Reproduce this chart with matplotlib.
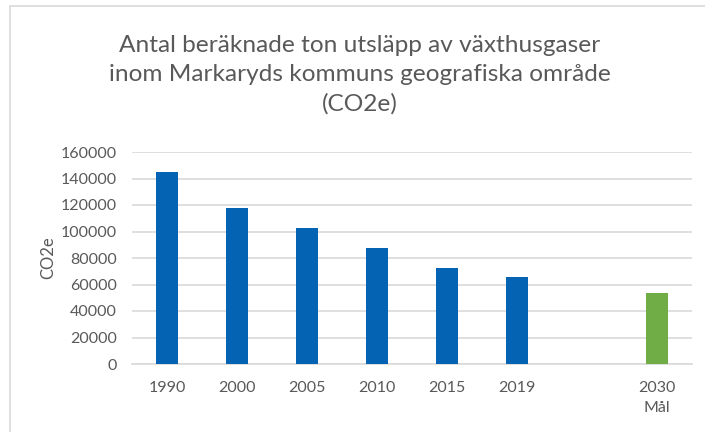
import matplotlib

matplotlib.use("Agg")
import matplotlib.pyplot as plt
import numpy as np
from matplotlib.patches import Rectangle

# values (tonnes CO2e)
categories = ["1990", "2000", "2005", "2010", "2015", "2019", "", "2030\nMål"]
emissions = [145000, 118000, 103000, 87500, 72300, 65400, 0, 53400]
is_target = [False, False, False, False, False, False, False, True]
yticks = [0, 20000, 40000, 60000, 80000, 100000, 120000, 140000, 160000]

title = ("Antal beräknade ton utsläpp av växthusgaser\n"
         "inom Markaryds kommuns geografiska område\n"
         "(CO2e)")

BLUE = "#0563b4"
GREEN = "#70ad47"
GRID = "#d9d9d9"
TEXT = "#595959"

plt.rcParams["font.family"] = ["Lato", "DejaVu Sans"]

fig = plt.figure(figsize=(7.05, 4.32), dpi=100)
ax = fig.add_axes([132 / 705, 1 - 364 / 432, 560 / 705, 212 / 432])

# light frame around the chart area, cut off at right and bottom like the screenshot
fig.patches.append(Rectangle((10 / 705, -0.1), 1.2, 1.1 - 6 / 432,
                             transform=fig.transFigure, fill=False,
                             edgecolor=GRID, linewidth=1.2))

x = np.arange(len(categories))
colors = [GREEN if t else BLUE for t in is_target]
heights = [v if c else 0 for v, c in zip(emissions, categories)]
ax.bar(x, heights, width=0.32, color=colors, zorder=3)

ax.set_xlim(-0.5, len(categories) - 0.5)
ax.set_ylim(0, 160000)
ax.set_yticks(yticks)
ax.set_yticklabels([str(v) for v in yticks])
ax.set_xticks(x)
ax.set_xticklabels(categories, linespacing=1.55)
ax.yaxis.grid(True, color=GRID, linewidth=1.2, zorder=0)
ax.tick_params(axis="y", length=0, pad=11, labelsize=11.5, labelcolor=TEXT)
ax.tick_params(axis="x", length=0, pad=12, labelsize=11.5, labelcolor=TEXT)
for side in ["top", "right", "left"]:
    ax.spines[side].set_visible(False)
ax.spines["bottom"].set_color(GRID)
ax.spines["bottom"].set_linewidth(1.2)

ax.set_ylabel("CO2e", fontsize=12, color=TEXT, labelpad=3)

fig.text(360 / 705, 1 - 75 / 432, title, ha="center", va="center",
         fontsize=17.6, color=TEXT, linespacing=1.45)

fig.savefig("out.png", dpi=100)
